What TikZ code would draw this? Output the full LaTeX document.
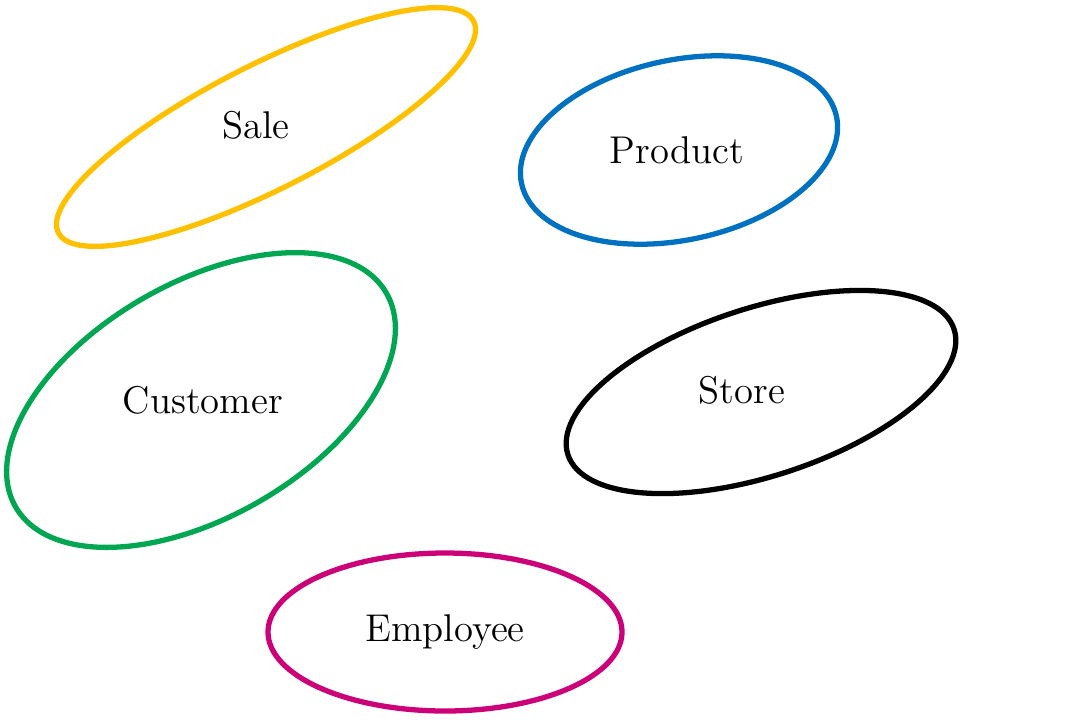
\documentclass[tikz,border=0pt]{standalone}
\usepackage{xcolor}
\usepackage{tikz}
\usetikzlibrary{positioning}

\definecolor{saleyellow}{HTML}{FFC000}
\definecolor{prodblue}{HTML}{0070C0}
\definecolor{custgreen}{HTML}{00A651}
\definecolor{emplmagenta}{HTML}{CC0077}

\begin{document}
\begin{tikzpicture}[x=0.01cm, y=0.01cm, every node/.style={font=\fontsize{11}{13}\selectfont}, ring/.style={line width=1.5pt}, lab/.style={inner sep=1pt}]
    \useasboundingbox (0,0) rectangle (1080,720);

    \foreach \n/\x/\y/\a/\b/\r/\col/\lx/\ly/\lab in {sale/266/593/233/62/27/saleyellow/256/595/Sale,
      product/679/570/161/90/12/prodblue/677/570/Product,
      customer/201/320/214/117/30/custgreen/203/320/Customer,
      store/761/328/203/84/18/black/742/330/Store,
      employee/445/88/177/79/0/emplmagenta/445/88/Employee}{
      \draw[ring, \col] (\x,\y) ellipse [x radius=\a, y radius=\b, rotate=\r];
      \node[lab] (\n) at (\lx,\ly) {\lab};
    }
\end{tikzpicture}
\end{document}
